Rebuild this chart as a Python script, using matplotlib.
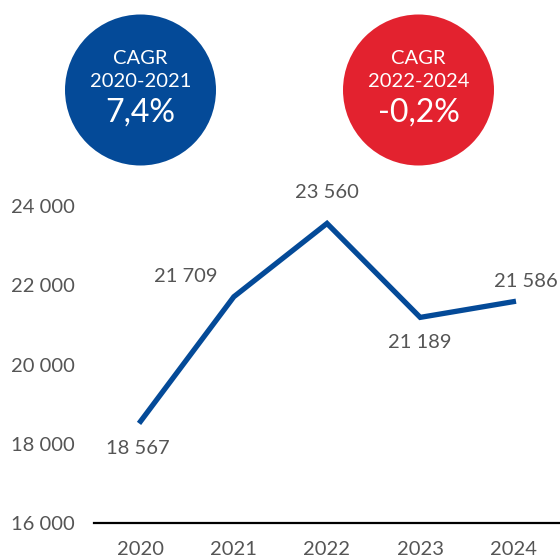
import matplotlib
matplotlib.use("Agg")
import matplotlib.pyplot as plt
from matplotlib.patches import Ellipse

years = ["2020", "2021", "2022", "2023", "2024"]
values = [18567, 21709, 23560, 21189, 21586]
value_labels = ["18 567", "21 709", "23 560", "21 189", "21 586"]
yticks = [16000, 18000, 20000, 22000, 24000]
ytick_labels = ["16 000", "18 000", "20 000", "22 000", "24 000"]
cagr_titles = ["CAGR", "CAGR"]
cagr_periods = ["2020-2021", "2022-2024"]
cagr_values = ["7,4%", "-0,2%"]

BLUE = "#044a98"
RED = "#e3222f"
GRAY = "#555555"
plt.rcParams['font.family'] = ['Lato', 'DejaVu Sans']

W, H = 560, 558
fig = plt.figure(figsize=(W/100, H/100), dpi=100)
ax = fig.add_axes([94/W, 35/H, 1 - 94/W, (523-206)/H])
x = list(range(len(years)))
ax.plot(x, values, color=BLUE, lw=3.8, solid_joinstyle='miter', clip_on=False)
ax.set_xlim(-0.5, len(years) - 0.5)
ax.set_ylim(16000, 24000)
ax.set_yticks(yticks)
ax.set_yticklabels(ytick_labels)
ax.set_xticks(x)
ax.set_xticklabels(years)
for s in ["top", "right", "left"]:
    ax.spines[s].set_visible(False)
ax.spines["bottom"].set_linewidth(1.6)
ax.spines["bottom"].set_color("black")
ax.tick_params(length=0, labelsize=14.5, colors=GRAY)
ax.tick_params(axis='y', pad=14)
ax.tick_params(axis='x', pad=13)

# offsets in pixels (dx, dy)
offsets = [(-3, -27), (-48, 20), (0, 31), (0, -25), (12, 20)]
for xi, v, lab, (dx, dy) in zip(x, values, value_labels, offsets):
    ax.annotate(lab, (xi, v), xytext=(dx*0.72, dy*0.72), textcoords='offset points',
                ha='center', va='center', fontsize=14.5, color=GRAY,
                annotation_clip=False)

# CAGR circles in pixel-based figure coords
centers = [(140.5, 90), (418.5, 90)]
colors = [BLUE, RED]
r = 75.5
for (cx, cy), col, t, p, v in zip(centers, colors, cagr_titles, cagr_periods, cagr_values):
    fig.patches.append(Ellipse((cx/W, 1 - cy/H), 2*r/W, 2*r/H, transform=fig.transFigure,
                               facecolor=col, edgecolor='none'))
    fig.text(cx/W, 1 - 58/H, t, ha='center', va='center', fontsize=14.5, color='white')
    fig.text(cx/W, 1 - 82/H, p, ha='center', va='center', fontsize=14.5, color='white')
    fig.text(cx/W, 1 - 113/H, v, ha='center', va='center', fontsize=23, color='white')

fig.savefig("out.png", dpi=100)
